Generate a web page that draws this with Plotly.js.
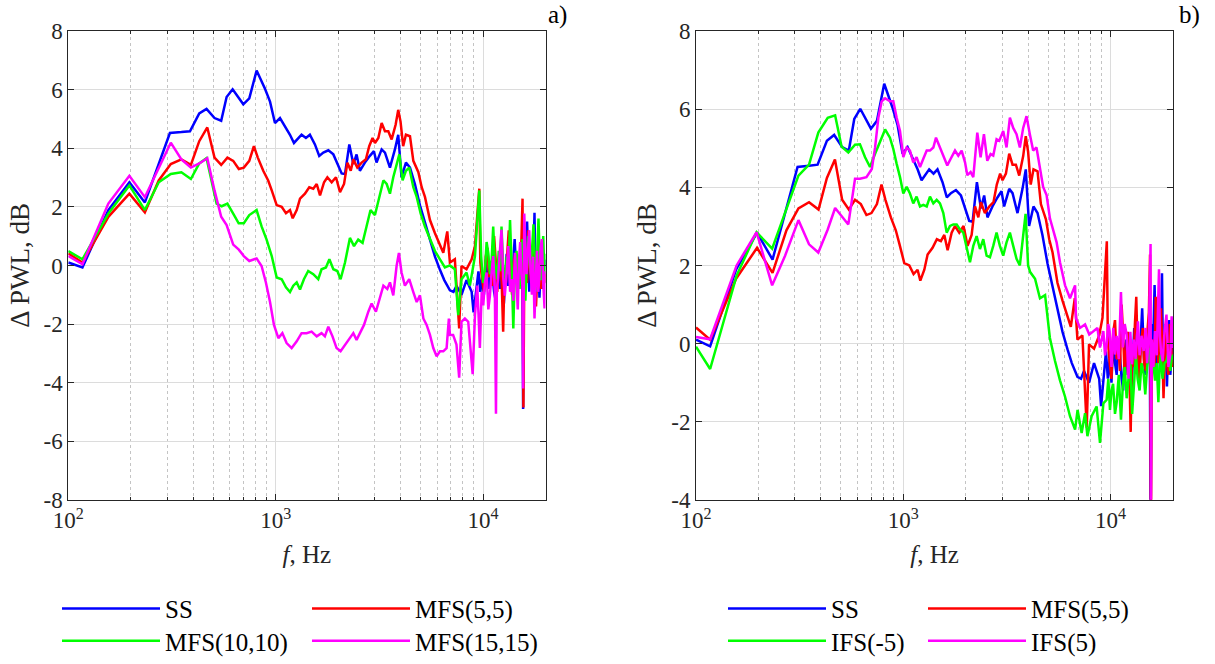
<!DOCTYPE html>
<html>
<head>
<meta charset="utf-8">
<script src="https://cdn.plot.ly/plotly-3.0.1.min.js"></script>
<style>body{margin:0;background:#fff;} #chart{width:1215px;height:664px;}</style>
</head>
<body>
<div id="chart"></div>
<script>
// ---------- data ----------
// SS (same series in both panels)
const freqSS = [100,117,156,197,234,309,351,386,428,464,507,546,580,620,698,746,809,888,939,992,1049,1121,1172,1225,1284,1333,1399,1462,1546,1622,1697,1794,1897,1983,2080,2159,2265,2368,2455,2547,2692,2846,2977,3064,3243,3365,3556,3758,3898,4044,4246,4442,4690,4962,5245,5545,5862,6197,6500,6920,7200,7443,7870,8320,8810,9000,9310,9500,9700,9900,10100,10300,10500,10700,10900,11100,11300,11500,11700,11900,12100,12300,12600,12800,13000,13200,13500,13700,14000,14200,14500,14700,15000,15200,15450,15600,15750,16000,16300,16500,16700,17000,17200,17500,17700,17900,18200,18400,18700,18900,19200,19400,19600,19800,20000];
const valSS  = [0.10,-0.07,1.89,2.84,2.15,4.52,4.55,4.58,5.19,5.34,5.03,4.94,5.75,6.01,5.50,5.70,6.65,6.03,5.59,4.86,5.03,4.69,4.46,4.18,4.35,4.46,4.35,4.46,4.13,3.74,3.85,3.93,3.79,3.46,3.14,3.12,4.13,3.46,3.79,3.23,3.51,3.74,3.90,3.51,3.96,3.85,3.34,3.96,4.46,3.01,3.51,3.34,2.78,2.05,1.45,0.90,0.30,-0.15,-0.50,-0.85,-0.90,-0.70,-1.00,-0.50,-0.90,-1.60,-0.70,-0.20,-0.90,-0.40,-1.00,0.20,-0.50,-0.80,0.10,-0.30,-0.90,-1.20,-0.20,0.10,-0.80,-0.40,-1.30,-0.20,0.40,-0.70,-0.10,-0.90,0.50,0.90,-0.40,-0.80,0.20,-0.50,0.30,-4.90,0.50,-0.30,1.50,-0.20,-0.90,0.60,-0.40,0.30,1.80,-0.60,-0.20,0.50,-1.10,-0.30,0.60,-0.80,-0.50,0.20,0.00];

// MFS(5,5) (same series in both panels)
const freqM55 = [100,117,156,197,234,273,312,351,390,428,468,507,546,585,624,664,702,746,785,820,871,920,957,1011,1069,1121,1172,1208,1263,1310,1384,1452,1518,1577,1636,1711,1775,1862,1953,2042,2136,2218,2301,2368,2475,2597,2723,2825,2932,3011,3126,3243,3365,3492,3624,3787,3898,4000,4118,4246,4442,4610,4875,5058,5245,5545,5862,6150,6430,6720,6920,7310,7670,7870,8320,8810,9140,9590,9700,9900,10100,10300,10500,10700,10900,11100,11300,11500,11700,11900,12100,12300,12500,12700,12900,13100,13300,13500,13800,14000,14300,14500,14800,15000,15300,15500,15650,15800,16000,16300,16500,16800,17000,17300,17500,17800,18000,18300,18500,18800,19000,19300,19500,19800,20000];
const valM55  = [0.41,0.10,1.66,2.45,1.81,2.90,3.46,3.62,3.43,4.24,4.71,3.68,3.43,3.68,3.57,3.29,3.34,3.57,4.07,3.68,3.23,2.90,2.56,2.06,2.00,1.78,1.89,1.61,1.89,2.28,2.45,2.67,2.62,2.78,2.39,2.84,3.01,2.84,3.01,2.50,2.78,3.51,3.23,3.62,3.34,3.51,3.62,4.07,4.35,4.18,4.35,4.86,4.58,4.58,4.30,4.80,5.31,4.91,4.07,4.46,4.41,3.57,3.18,2.67,2.34,1.55,1.10,0.77,0.43,1.16,0.10,0.21,-2.15,-0.02,-0.13,0.21,0.66,2.62,0.10,-0.50,-0.90,0.30,0.60,-0.40,-0.10,-0.70,1.00,0.20,-0.90,-0.20,0.30,-0.60,-2.26,-0.10,-0.60,0.50,1.20,-0.20,-1.00,0.00,0.40,-0.50,-0.70,0.20,0.80,2.28,-4.85,-0.20,0.10,-0.60,1.20,0.00,-0.50,0.40,0.90,-0.30,-1.40,-0.20,0.40,-0.60,-0.80,0.50,0.30,-0.60,-0.30];

// MFS(10,10)
const freqM1010 = [100,117,156,197,234,273,312,351,390,428,464,519,549,585,624,663,702,746,809,855,904,957,1011,1069,1121,1172,1216,1263,1310,1368,1435,1518,1604,1664,1747,1815,1897,1983,2056,2159,2280,2386,2500,2624,2742,2866,3011,3162,3306,3429,3556,3690,3828,3946,4091,4246,4405,4610,4786,5000,5245,5545,5862,6197,6546,6920,7310,7590,7870,8320,8640,9140,9590,9790,10000,10200,10400,10590,10800,11000,11190,11400,11700,11900,12100,12270,12500,12730,13000,13250,13490,13700,13990,14200,14500,14700,15000,15250,15500,15750,16000,16250,16500,16750,17000,17250,17500,17750,18000,18250,18500,18750,19000,19250,19500,19750,20000];
const valM1010  = [0.49,0.21,1.77,2.73,1.89,2.84,3.12,3.18,2.95,3.48,3.66,2.11,2.02,2.11,1.77,1.44,1.44,1.72,1.89,1.33,0.88,0.32,-0.41,-0.47,-0.75,-0.91,-0.69,-0.58,-0.82,-0.47,-0.19,-0.30,-0.47,-0.13,-0.07,0.21,-0.13,-0.19,-0.47,0.10,0.94,0.66,0.88,0.77,1.33,1.89,1.72,2.34,2.90,2.78,2.45,3.01,3.46,3.79,2.90,3.23,3.34,2.67,2.34,1.78,1.33,0.88,0.49,0.21,-0.07,0.00,-0.13,-1.70,-0.47,-0.24,-0.69,0.32,2.56,0.32,-0.60,-0.24,0.80,0.43,-0.30,0.20,1.33,0.10,-0.47,0.50,-0.20,1.33,0.00,-0.69,0.30,-0.30,1.55,0.20,-2.15,-0.40,0.50,-0.20,-0.80,0.30,0.90,-0.40,-1.20,0.20,1.00,0.10,-0.30,0.60,1.40,0.20,-0.90,0.40,1.60,0.30,-0.50,0.20,1.00,-0.30,0.40];

// MFS(15,15)
const freqM1515 = [100,117,156,197,234,273,312,351,390,428,468,507,546,580,624,664,702,746,809,855,897,939,981,1030,1077,1129,1194,1263,1333,1409,1490,1577,1664,1727,1794,1879,1966,2056,2159,2265,2368,2455,2547,2666,2797,2902,3043,3186,3306,3452,3556,3690,3828,3928,4044,4198,4405,4610,4786,4962,5153,5344,5545,5754,5970,6197,6430,6670,6840,6920,7170,7443,7670,7870,8170,8480,8910,9140,9370,9500,9650,9850,10020,10200,10400,10600,10790,11000,11190,11400,11540,11650,11800,12000,12270,12500,12730,13000,13230,13500,13740,14000,14250,14500,14700,14900,15100,15300,15500,15600,15700,15800,16000,16200,16450,16700,16950,17200,17450,17700,17950,18200,18450,18700,18950,19200,19500,19800,20000];
const valM1515  = [0.32,0.04,2.11,3.06,2.33,3.34,4.19,3.62,3.34,3.48,3.66,2.56,1.66,1.38,0.71,0.54,0.32,0.15,0.24,-0.02,-0.58,-1.25,-2.03,-2.48,-2.31,-2.65,-2.82,-2.59,-2.31,-2.31,-2.26,-2.42,-2.31,-2.42,-2.09,-2.42,-2.82,-2.93,-2.71,-2.48,-2.31,-2.54,-2.31,-2.03,-1.58,-1.30,-1.58,-1.13,-0.69,-0.80,-0.58,-1.02,-0.02,0.43,-0.24,-0.69,-0.47,-0.91,-1.25,-1.02,-1.81,-2.03,-2.37,-2.82,-3.10,-2.93,-2.93,-2.82,-1.81,-2.37,-2.37,-2.70,-3.83,-1.92,-1.81,-1.92,-3.71,-1.70,-0.69,-1.60,-2.82,-0.90,-1.36,-0.60,-0.24,-1.50,-1.03,-0.20,0.32,-0.90,-5.06,-0.80,-0.47,0.30,1.22,-0.40,-1.03,-0.20,0.66,-0.90,-0.47,-1.20,0.43,-0.60,-1.50,0.20,0.80,-0.30,-0.70,-4.20,0.40,1.77,0.60,-0.30,0.50,1.20,-0.20,-1.00,0.30,-1.81,-0.50,0.50,-0.90,-0.40,0.60,0.90,-0.60,-1.47,-0.20];

// IFS(-5)
const freqIFSm5 = [100,117,157,196,233,312,351,389,432,469,504,543,585,618,654,691,731,772,817,862,895,929,964,1000,1038,1077,1117,1159,1204,1249,1297,1345,1396,1449,1503,1560,1619,1680,1743,1809,1877,1948,2021,2097,2176,2258,2343,2431,2523,2618,2716,2818,2924,3034,3148,3267,3390,3517,3650,3787,3890,4000,4093,4320,4563,4830,5093,5390,5700,6030,6370,6740,6930,7250,7530,7730,8100,8560,8890,9230,9570,9750,9930,10100,10280,10500,10700,10950,11220,11450,11700,11950,12200,12450,12700,12950,13250,13500,13800,14100,14440,14700,15000,15390,15700,16000,16380,16700,17000,17250,17470,17800,18200,18600,19000,19400,19700,20000];
const valIFSm5  = [-0.08,-0.65,1.74,2.85,2.43,4.30,4.58,5.40,5.78,5.84,5.04,4.89,5.09,5.10,4.77,4.52,4.86,5.19,5.48,5.27,4.98,4.60,4.26,3.84,4.01,3.84,3.59,3.76,3.51,3.55,3.51,3.76,3.59,3.68,3.59,3.34,2.84,3.01,3.05,3.05,2.92,2.84,2.42,2.08,2.50,2.75,2.42,2.67,2.25,2.21,2.50,2.84,2.50,2.25,2.59,2.84,2.50,2.17,2.00,2.75,3.32,2.00,1.83,1.66,1.16,1.24,0.15,-0.44,-0.94,-1.36,-1.86,-2.20,-1.70,-2.29,-1.78,-2.37,-1.86,-1.61,-2.54,-1.53,-1.44,-0.90,-1.70,-1.20,-1.03,-1.80,-1.50,-0.80,-1.95,-1.10,-0.60,-1.40,-0.95,-0.40,-1.80,-1.00,-0.28,-0.90,-1.20,-0.50,-0.78,-1.30,-0.60,-0.11,-0.70,-0.40,-0.95,-0.50,-1.50,-0.60,-0.28,-0.90,-0.50,-0.45,-0.20,-0.70,-0.40,-0.28];

// IFS(5)
const freqIFSp5 = [100,117,157,196,233,269,312,351,389,432,469,504,543,585,618,664,705,731,758,787,817,862,895,929,964,1000,1038,1077,1117,1159,1204,1249,1297,1345,1396,1438,1503,1560,1630,1693,1776,1842,1912,1985,2036,2112,2176,2275,2360,2449,2542,2637,2716,2818,2903,3034,3148,3267,3390,3517,3650,3787,3930,4078,4231,4390,4555,4727,4910,5100,5490,5700,6030,6370,6740,6810,7120,7530,7890,8260,8640,8890,9230,9400,9570,9740,9890,10100,10300,10500,10700,10950,11220,11450,11700,11950,12200,12450,12690,12950,13200,13550,13800,14100,14440,14750,15000,15300,15590,15650,15800,16100,16380,16700,17120,17300,17500,17830,18200,18600,19000,19410,19700,20000];
const valIFSp5  = [0.17,0.11,2.00,2.85,1.49,2.25,3.16,2.54,2.33,2.92,3.47,3.26,3.05,4.22,4.22,4.26,4.47,5.02,5.78,6.20,6.28,6.20,6.20,5.78,5.44,4.77,5.02,4.94,4.64,4.77,4.52,4.73,4.94,4.94,5.02,5.27,5.02,4.85,4.56,4.73,4.94,4.81,4.94,4.64,4.31,4.39,4.26,5.40,4.77,5.36,4.68,4.85,4.81,5.23,5.19,5.44,5.02,5.78,5.52,5.36,5.02,5.52,5.82,5.36,4.94,5.02,4.52,4.01,3.80,3.20,2.59,2.08,1.49,1.16,1.49,0.65,0.40,0.49,0.23,0.32,0.40,-0.10,0.32,-0.30,-0.02,0.50,0.32,-0.60,0.40,-0.28,0.20,-0.40,1.32,-0.10,0.50,0.23,-0.90,0.30,-0.53,0.10,-0.40,0.57,-0.30,0.20,-0.19,0.40,-0.50,0.30,2.55,-4.30,0.10,-0.60,0.32,-0.30,1.90,0.20,-0.20,-0.45,0.30,0.74,-0.60,-0.28,0.70,-0.11];

// tick labels
const xTickVals = [100, 1000, 10000];
const xTickText = ['10<sup>2</sup>', '10<sup>3</sup>', '10<sup>4</sup>'];
const yTickValsA = [-8, -6, -4, -2, 0, 2, 4, 6, 8];
const yTickValsB = [-4, -2, 0, 2, 4, 6, 8];

// ---------- styling ----------
const FONT = '"Liberation Serif", "Times New Roman", "DejaVu Serif", serif';
const INK = '#262626';
const W = 1215, H = 664;
const minorVals = [];
[100, 1000, 10000].forEach(d => { for (let k = 2; k <= 9; k++) { if (d * k <= 20000) minorVals.push(d * k); } });

function xAxis(dom, anchor) {
  return {
    type: 'log', domain: dom, anchor: anchor,
    range: [2, Math.log10(20000)],
    tickmode: 'array', tickvals: xTickVals, ticktext: xTickText,
    ticks: 'inside', ticklen: 6, tickwidth: 1, tickcolor: INK,
    showline: true, linecolor: INK, linewidth: 1, mirror: 'ticks',
    showgrid: true, gridcolor: '#dcdcdc', gridwidth: 1, zeroline: false,
    tickfont: {family: FONT, size: 23, color: INK},
    minor: {tickmode: 'array', tickvals: minorVals, ticks: 'inside', ticklen: 3, tickcolor: INK,
            showgrid: true, gridcolor: '#c4c4c4', griddash: 'dot', gridwidth: 1},
    title: {text: '<i>f</i>, Hz', font: {family: FONT, size: 25, color: INK}, standoff: 13},
    automargin: false
  };
}
function yAxis(dom, anchor, range, vals) {
  return {
    domain: dom, anchor: anchor, range: range,
    tickmode: 'array', tickvals: vals, ticktext: vals.map(v => String(v)),
    ticks: 'inside', ticklen: 6, tickwidth: 1, tickcolor: INK,
    showline: true, linecolor: INK, linewidth: 1, mirror: 'ticks',
    showgrid: true, gridcolor: '#dcdcdc', gridwidth: 1, zeroline: false,
    tickfont: {family: FONT, size: 23, color: INK},
    title: {text: '\u0394 PWL, dB', font: {family: FONT, size: 27, color: INK}, standoff: 6},
    automargin: false
  };
}

const yDom = [(H - 507.5) / H, (H - 31.5) / H];
const BLUE = '#0000ff', RED = '#ff0000', GREEN = '#00ff00', MAG = '#ff00ff';
function tr(x, y, name, color, xa, ya, lg) {
  return {x: x, y: y, name: name, type: 'scatter', mode: 'lines', xaxis: xa, yaxis: ya, legend: lg,
          line: {color: color, width: 2.5}, hoverinfo: 'skip'};
}
const data = [
  tr(freqSS, valSS, 'SS', BLUE, 'x', 'y', 'legend'),
  tr(freqM55, valM55, 'MFS(5,5)', RED, 'x', 'y', 'legend2'),
  tr(freqM1010, valM1010, 'MFS(10,10)', GREEN, 'x', 'y', 'legend3'),
  tr(freqM1515, valM1515, 'MFS(15,15)', MAG, 'x', 'y', 'legend4'),
  tr(freqSS, valSS, 'SS', BLUE, 'x2', 'y2', 'legend5'),
  tr(freqM55, valM55, 'MFS(5,5)', RED, 'x2', 'y2', 'legend6'),
  tr(freqIFSm5, valIFSm5, 'IFS(-5)', GREEN, 'x2', 'y2', 'legend7'),
  tr(freqIFSp5, valIFSp5, 'IFS(5)', MAG, 'x2', 'y2', 'legend8')
];

function lg(xpx, ypx) {
  return {x: xpx / W, xanchor: 'left', y: (H - ypx) / H, yanchor: 'middle', orientation: 'v',
          bgcolor: 'rgba(0,0,0,0)', borderwidth: 0, itemwidth: 98, tracegroupgap: 0,
          font: {family: FONT, size: 25, color: '#000'}, itemclick: false, itemdoubleclick: false};
}
const ROW1 = 618, ROW2 = 651;

const layout = {
  width: W, height: H,
  margin: {l: 0, r: 0, t: 0, b: 0},
  paper_bgcolor: '#fff', plot_bgcolor: '#fff',
  font: {family: FONT, color: INK},
  showlegend: true,
  xaxis: xAxis([68.3 / W, 545.5 / W], 'y'),
  yaxis: yAxis(yDom, 'x', [-8, 8], yTickValsA),
  xaxis2: xAxis([696 / W, 1173 / W], 'y2'),
  yaxis2: yAxis(yDom, 'x2', [-4, 8], yTickValsB),
  legend: lg(57, ROW1), legend2: lg(307, ROW1), legend3: lg(57, ROW2), legend4: lg(307, ROW2),
  legend5: lg(723, ROW1), legend6: lg(923, ROW1), legend7: lg(723, ROW2), legend8: lg(923, ROW2),
  annotations: [
    {text: 'a)', x: 546 / W, y: (H - 15) / H, xref: 'paper', yref: 'paper', xanchor: 'left', yanchor: 'middle',
     showarrow: false, font: {family: FONT, size: 25, color: '#000'}},
    {text: 'b)', x: 1177 / W, y: (H - 15) / H, xref: 'paper', yref: 'paper', xanchor: 'left', yanchor: 'middle',
     showarrow: false, font: {family: FONT, size: 25, color: '#000'}}
  ]
};

Plotly.newPlot('chart', data, layout, {staticPlot: true, displayModeBar: false});
</script>
</body>
</html>
